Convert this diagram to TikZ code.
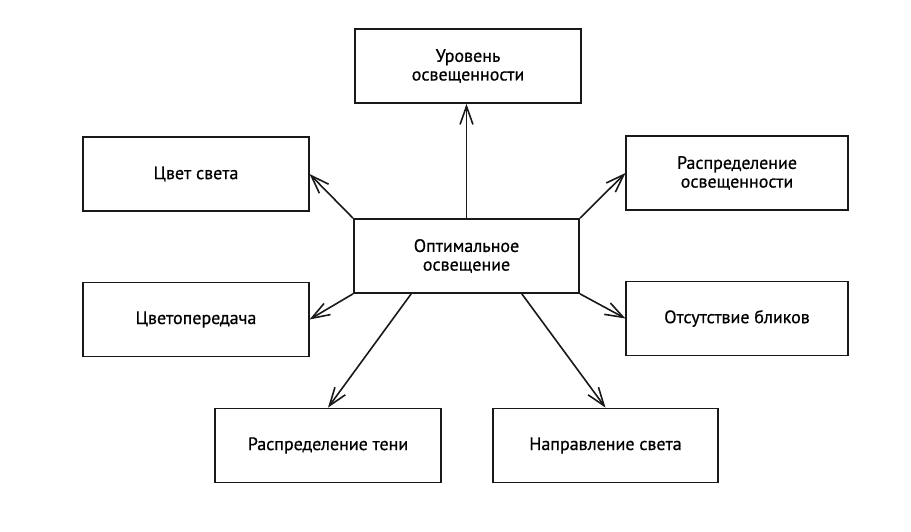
\documentclass[tikz,border=0pt]{standalone}
\usepackage{fontspec}
\setmainfont{PT Sans}
\usepackage{tikz}
\usetikzlibrary{arrows.meta}

\begin{document}
\begin{tikzpicture}[
  x=0.75pt,y=-0.75pt,
  font=\fontsize{13.5}{14}\selectfont\addfontfeatures{FakeBold=0.6},
  box/.style={draw=black!90,fill=white,line width=1.3pt,
              minimum width=169pt,minimum height=55.5pt,align=center,inner sep=3pt},
  narrow/.style={minimum width=166pt},
  ar/.style={-{Straight Barb[length=4.8mm,width=3.4mm,line width=1.2pt]},line width=1.2pt,black!90},
]
\useasboundingbox (0,0) rectangle (911,532);

\node[box] (opt) at (466.5,256) {Оптимальное\\освещение};
\node[box] (level) at (468,66) {Уровень\\освещенности};
\node[box] (colour) at (196,174) {Цвет света};
\node[box,narrow] (distr) at (737,173) {Распределение\\освещенности};
\node[box] (render) at (196,319.5) {Цветопередача};
\node[box,narrow] (glare) at (737,318.5) {Отсутствие бликов};
\node[box] (shade) at (328,445.5) {Распределение тени};
\node[box] (dir) at (605.5,445.5) {Направление света};

\draw[ar] (opt.north) -- (opt.north |- level.south);
\draw[ar] (opt.north west) -- (colour.east);
\draw[ar] (opt.north east) -- (distr.west);
\draw[ar] (opt.south west) -- (render.east);
\draw[ar] (opt.south east) -- (glare.west);
\draw[ar] ([xshift=-41.5pt]opt.south) -- (shade.north);
\draw[ar] ([xshift=41.5pt]opt.south) -- (dir.north);
\end{tikzpicture}
\end{document}
